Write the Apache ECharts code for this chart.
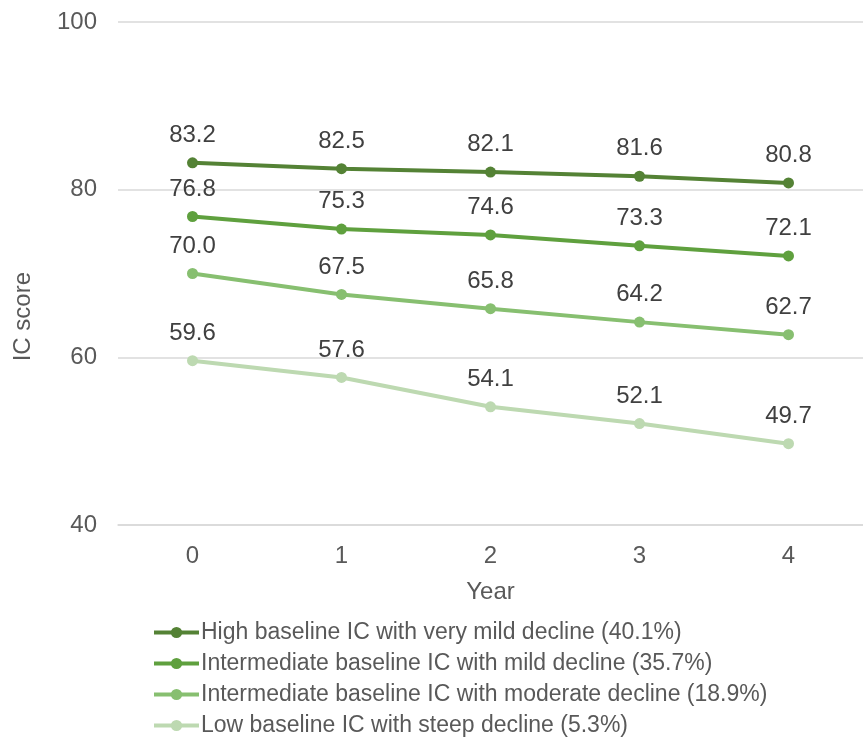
<!DOCTYPE html>
<html>
<head>
<meta charset="utf-8">
<script src="https://cdn.jsdelivr.net/npm/echarts@6/dist/echarts.min.js"></script>
<style>html,body{margin:0;padding:0;background:#fff;}#c{width:863px;height:742px;}</style>
</head>
<body>
<div id="c"></div>
<script>
const years = ['0', '1', '2', '3', '4'];
const seriesNames = [
  'High baseline IC with very mild decline (40.1%)',
  'Intermediate baseline IC with mild decline (35.7%)',
  'Intermediate baseline IC with moderate decline (18.9%)',
  'Low baseline IC with steep decline (5.3%)'
];
const highMild = [83.2, 82.5, 82.1, 81.6, 80.8];
const interMild = [76.8, 75.3, 74.6, 73.3, 72.1];
const interModerate = [70.0, 67.5, 65.8, 64.2, 62.7];
const lowSteep = [59.6, 57.6, 54.1, 52.1, 49.7];
const yTicks = [40, 60, 80, 100];

const colors = ['#548235', '#5FA03E', '#87BF70', '#BDD9B1'];
const values = [highMild, interMild, interModerate, lowSteep];
const font = 'Liberation Sans, Arial, sans-serif';

const chart = echarts.init(document.getElementById('c'), null, {renderer: 'canvas'});
chart.setOption({
  animation: false,
  backgroundColor: '#ffffff',
  grid: {left: 118, right: -12, top: 22, bottom: 217, containLabel: false},
  legend: {
    orient: 'vertical',
    left: 147,
    top: 616,
    itemWidth: 45,
    itemHeight: 14,
    itemGap: 8,
    lineStyle: {width: 4},
    textStyle: {fontFamily: font, fontSize: 23, color: '#595959', padding: [0, 0, 0, -3]},
    data: seriesNames
  },
  xAxis: {
    type: 'category',
    data: years,
    boundaryGap: true,
    name: 'Year',
    nameLocation: 'middle',
    nameGap: 55,
    nameTextStyle: {fontFamily: font, fontSize: 24, color: '#595959'},
    axisLine: {show: true, lineStyle: {color: '#D9D9D9', width: 1.5}},
    axisTick: {show: false},
    axisLabel: {fontFamily: font, fontSize: 24, color: '#595959', margin: 19}
  },
  yAxis: {
    type: 'value',
    min: yTicks[0],
    max: yTicks[yTicks.length - 1],
    interval: 20,
    axisLine: {show: false},
    axisTick: {show: false},
    splitLine: {lineStyle: {color: '#D9D9D9', width: 1.5}},
    axisLabel: {fontFamily: font, fontSize: 24, color: '#595959', margin: 21}
  },
  graphic: [{
    type: 'text',
    left: 11,
    top: 272,
    rotation: Math.PI / 2,
    style: {text: 'IC score', font: '24px ' + font, fill: '#595959'}
  }],
  series: seriesNames.map((n, i) => ({
    name: n,
    type: 'line',
    data: values[i],
    color: colors[i],
    symbol: 'circle',
    symbolSize: 11,
    lineStyle: {width: 4, color: colors[i]},
    itemStyle: {color: colors[i]},
    label: {
      show: true,
      position: 'top',
      distance: 10,
      fontFamily: font,
      fontSize: 24,
      color: '#404040',
      formatter: p => p.value.toFixed(1)
    },
    z: 10 - i
  }))
});
</script>
</body>
</html>
